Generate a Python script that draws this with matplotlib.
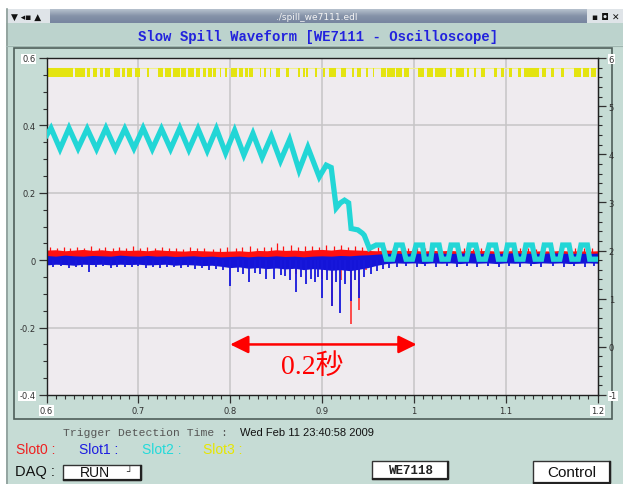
import numpy as np
import matplotlib
matplotlib.use("Agg")
import matplotlib.pyplot as plt
from matplotlib.patches import Rectangle
from matplotlib.ticker import FixedLocator

plt.rcParams['font.family'] = ['DejaVu Sans', 'Noto Sans CJK JP']

# ---------------- data ----------------
window_title = "./spill_we7111.edl"
title = "Slow Spill Waveform [WE7111 - Oscilloscope]"
trigger_label = "Trigger Detection Time :"
trigger_time = "Wed Feb 11 23:40:58 2009"
slot_labels = ["Slot0 :", "Slot1 :", "Slot2 :", "Slot3 :"]
slot_colors = ["#ee2020", "#1c1ce0", "#22dada", "#e6e600"]

x_ticks = [0.6, 0.7, 0.8, 0.9, 1.0, 1.1, 1.2]
x_tick_labels = ["0.6", "0.7", "0.8", "0.9", "1", "1.1", "1.2"]
y_ticks = [-0.4, -0.2, 0.0, 0.2, 0.4, 0.6]
y_tick_labels = ["-0.4", "-0.2", "0", "0.2", "0.4", "0.6"]
grid_x = [0.7, 0.8, 0.9, 1.0, 1.1]
grid_y = [-0.2, 0.0, 0.2, 0.4]
right_ticks = [-1, 0, 1, 2, 3, 4, 5, 6]
right_tick_labels = ["-1", "0", "1", "2", "3", "4", "5", "6"]

# noise bands of Slot0 (red) and Slot1 (blue), sampled every 0.01
band_x = [0.60, 0.61, 0.62, 0.63, 0.64, 0.65, 0.66, 0.67, 0.68, 0.69,
          0.70, 0.71, 0.72, 0.73, 0.74, 0.75, 0.76, 0.77, 0.78, 0.79,
          0.80, 0.81, 0.82, 0.83, 0.84, 0.85, 0.86, 0.87, 0.88, 0.89,
          0.90, 0.91, 0.92, 0.93, 0.94, 0.95, 0.96, 0.97, 0.98, 0.99,
          1.00, 1.01, 1.02, 1.03, 1.04, 1.05, 1.06, 1.07, 1.08, 1.09,
          1.10, 1.11, 1.12, 1.13, 1.14, 1.15, 1.16, 1.17, 1.18, 1.19, 1.20]
red_top = [0.030, 0.031, 0.028, 0.030, 0.032, 0.029, 0.031, 0.028, 0.030, 0.029,
           0.030, 0.028, 0.031, 0.029, 0.028, 0.027, 0.029, 0.028, 0.027, 0.026,
           0.027, 0.028, 0.026, 0.029, 0.028, 0.031, 0.029, 0.030, 0.028, 0.031,
           0.032, 0.030, 0.033, 0.031, 0.030, 0.029, 0.028, 0.030, 0.029, 0.028,
           0.029, 0.027, 0.029, 0.028, 0.029, 0.027, 0.029, 0.028, 0.029, 0.027,
           0.028, 0.028, 0.029, 0.027, 0.028, 0.027, 0.029, 0.027, 0.028, 0.027, 0.028]
red_bot = [0.006, 0.005, 0.007, 0.005, 0.006, 0.005, 0.006, 0.007, 0.005, 0.006,
           0.006, 0.005, 0.006, 0.005, 0.007, 0.005, 0.006, 0.005, 0.006, 0.004,
           0.003, 0.004, 0.002, 0.003, 0.002, 0.001, 0.002, 0.000, 0.001, 0.000,
           -0.002, 0.000, -0.001, 0.001, 0.002, 0.004, 0.008, 0.010, 0.011, 0.010,
           0.011, 0.010, 0.012, 0.011, 0.010, 0.011, 0.012, 0.010, 0.011, 0.010,
           0.011, 0.012, 0.010, 0.011, 0.010, 0.012, 0.011, 0.010, 0.011, 0.010, 0.011]
blue_top = [0.014, 0.012, 0.015, 0.013, 0.012, 0.014, 0.013, 0.012, 0.015, 0.013,
            0.012, 0.014, 0.012, 0.013, 0.011, 0.012, 0.013, 0.011, 0.012, 0.010,
            0.011, 0.012, 0.010, 0.012, 0.011, 0.013, 0.011, 0.012, 0.010, 0.012,
            0.013, 0.012, 0.014, 0.013, 0.015, 0.016, 0.018, 0.020, 0.021, 0.020,
            0.021, 0.020, 0.022, 0.021, 0.020, 0.021, 0.022, 0.020, 0.021, 0.020,
            0.021, 0.022, 0.020, 0.021, 0.020, 0.022, 0.021, 0.020, 0.021, 0.020, 0.021]
blue_bot = [-0.014, -0.012, -0.013, -0.015, -0.012, -0.013, -0.012, -0.014, -0.012, -0.013,
            -0.012, -0.014, -0.013, -0.012, -0.015, -0.013, -0.014, -0.016, -0.015, -0.018,
            -0.022, -0.020, -0.024, -0.022, -0.025, -0.023, -0.026, -0.024, -0.028, -0.025,
            -0.027, -0.030, -0.028, -0.031, -0.027, -0.022, -0.015, -0.010, -0.008, -0.009,
            -0.008, -0.010, -0.008, -0.009, -0.008, -0.010, -0.008, -0.009, -0.008, -0.010,
            -0.008, -0.009, -0.008, -0.010, -0.008, -0.009, -0.008, -0.010, -0.009, -0.008, -0.009]

# upward noise spikes of Slot0
red_up_x = [0.604, 0.611, 0.619, 0.626, 0.633, 0.641, 0.648, 0.657, 0.664, 0.672,
            0.679, 0.687, 0.694, 0.702, 0.709, 0.718, 0.726, 0.733, 0.741, 0.749,
            0.756, 0.764, 0.772, 0.781, 0.789, 0.797, 0.806, 0.813, 0.822, 0.829,
            0.837, 0.845, 0.851, 0.858, 0.866, 0.874, 0.881, 0.889, 0.897, 0.904,
            0.913, 0.921, 0.928, 0.936, 0.944, 0.952, 0.961, 0.969, 0.977, 0.986,
            0.994, 1.003, 1.012, 1.021, 1.029, 1.038, 1.047, 1.055, 1.064, 1.073,
            1.081, 1.090, 1.098, 1.107, 1.116, 1.124, 1.133, 1.142, 1.150, 1.159,
            1.168, 1.176, 1.185, 1.194]
red_up_y = [0.038, 0.035, 0.040, 0.036, 0.039, 0.037, 0.041, 0.035, 0.038, 0.036,
            0.040, 0.035, 0.042, 0.036, 0.038, 0.035, 0.039, 0.036, 0.037, 0.034,
            0.038, 0.035, 0.037, 0.034, 0.036, 0.038, 0.036, 0.039, 0.041, 0.037,
            0.040, 0.038, 0.050, 0.042, 0.044, 0.039, 0.041, 0.043, 0.040, 0.046,
            0.041, 0.044, 0.040, 0.042, 0.039, 0.037, 0.038, 0.036, 0.037, 0.035,
            0.036, 0.037, 0.035, 0.036, 0.034, 0.036, 0.035, 0.037, 0.034, 0.036,
            0.035, 0.036, 0.034, 0.037, 0.035, 0.036, 0.034, 0.036, 0.035, 0.037,
            0.034, 0.036, 0.035, 0.036]
# downward spikes of Slot0
red_dn_x = [0.872, 0.900, 0.911, 0.921, 0.932, 0.9408, 0.948]
red_dn_y = [-0.040, -0.055, -0.135, -0.060, -0.188, -0.148, -0.030]
# downward spikes of Slot1
blue_dn_x = [0.607, 0.616, 0.624, 0.632, 0.639, 0.646, 0.654, 0.662, 0.670, 0.677,
             0.685, 0.693, 0.700, 0.708, 0.716, 0.724, 0.731, 0.739, 0.746, 0.754,
             0.762, 0.769, 0.777, 0.785, 0.792, 0.800, 0.808, 0.814, 0.820, 0.827,
             0.833, 0.839, 0.848, 0.855, 0.860, 0.865, 0.872, 0.877, 0.883, 0.888,
             0.892, 0.896, 0.900, 0.905, 0.911, 0.915, 0.920, 0.925, 0.932, 0.936,
             0.940, 0.946, 0.953, 0.960, 0.966, 0.973, 0.982, 0.991, 1.003, 1.012,
             1.024, 1.036, 1.047, 1.058, 1.069, 1.081, 1.093, 1.104, 1.116, 1.128,
             1.139, 1.151, 1.163, 1.174, 1.186, 1.196]
blue_dn_y = [-0.020, -0.018, -0.022, -0.019, -0.021, -0.036, -0.020, -0.018, -0.022, -0.020,
             -0.019, -0.021, -0.018, -0.022, -0.020, -0.024, -0.021, -0.019, -0.023, -0.020,
             -0.026, -0.022, -0.028, -0.025, -0.030, -0.078, -0.034, -0.040, -0.066, -0.038,
             -0.042, -0.055, -0.056, -0.044, -0.048, -0.058, -0.094, -0.050, -0.072, -0.055,
             -0.066, -0.050, -0.113, -0.060, -0.137, -0.065, -0.158, -0.070, -0.120, -0.060,
             -0.113, -0.050, -0.042, -0.032, -0.026, -0.022, -0.020, -0.018, -0.021, -0.017,
             -0.020, -0.018, -0.021, -0.017, -0.020, -0.018, -0.021, -0.017, -0.020, -0.018,
             -0.021, -0.017, -0.020, -0.018, -0.021, -0.018]

# Slot2 (cyan) waveform knots
cyan_x = [0.600, 0.6049, 0.6147, 0.6245, 0.6344, 0.6443, 0.6545, 0.6647, 0.6750, 0.6853,
          0.6952, 0.7052, 0.7152, 0.7252, 0.7351, 0.7451, 0.7550, 0.7650, 0.7750, 0.7850,
          0.7950, 0.8049, 0.8149, 0.8248, 0.8348, 0.8448, 0.8548, 0.8647, 0.8750, 0.8846,
          0.8970, 0.9046, 0.9100, 0.9155, 0.9200, 0.9245, 0.9290, 0.9317, 0.9390, 0.9440,
          0.9460, 0.9516,
          0.9590, 0.9660, 0.9700, 0.9770, 0.9810, 0.9875, 0.9915, 0.9985, 1.0025, 1.0095,
          1.0115, 1.0185, 1.0205, 1.0275, 1.0305, 1.0375, 1.0405, 1.0475, 1.0505, 1.0575,
          1.0605, 1.0675, 1.0710, 1.0780, 1.0820, 1.0890, 1.0920, 1.0990, 1.1020, 1.1090,
          1.1120, 1.1190, 1.1220, 1.1290, 1.1320, 1.1390, 1.1420, 1.1490, 1.1520, 1.1590,
          1.1620, 1.1690, 1.1720, 1.1790, 1.1820, 1.1890, 1.1915, 1.2000]
cyan_y = [0.370, 0.392, 0.330, 0.392, 0.332, 0.390, 0.330, 0.392, 0.330, 0.390,
          0.332, 0.392, 0.330, 0.390, 0.330, 0.392, 0.328, 0.390, 0.325, 0.390,
          0.318, 0.385, 0.312, 0.376, 0.305, 0.368, 0.295, 0.358, 0.267, 0.335,
          0.247, 0.282, 0.275, 0.155, 0.170, 0.178, 0.170, 0.094, 0.090, 0.080,
          0.074, 0.035,
          0.045, 0.045, 0.003, 0.003, 0.045, 0.045, 0.003, 0.003, 0.045, 0.045,
          0.003, 0.003, 0.045, 0.045, 0.003, 0.003, 0.045, 0.045, 0.003, 0.003,
          0.045, 0.045, 0.003, 0.003, 0.045, 0.045, 0.003, 0.003, 0.045, 0.045,
          0.003, 0.003, 0.045, 0.045, 0.003, 0.003, 0.045, 0.045, 0.003, 0.003,
          0.045, 0.045, 0.003, 0.003, 0.045, 0.045, 0.003, 0.003]

# Slot3 (yellow) pulse blocks: start, end
yellow_start = [0.600, 0.631, 0.644, 0.651, 0.658, 0.664, 0.673, 0.682, 0.688, 0.696,
                0.709, 0.721, 0.729, 0.738, 0.747, 0.754, 0.763, 0.770, 0.776, 0.781,
                0.789, 0.794, 0.801, 0.810, 0.816, 0.821, 0.832, 0.837, 0.843, 0.850,
                0.861, 0.874, 0.879, 0.883, 0.892, 0.901, 0.908, 0.921, 0.933, 0.938,
                0.948, 0.955, 0.964, 0.971, 0.981, 0.989, 1.004, 1.014, 1.023, 1.039,
                1.046, 1.058, 1.066, 1.073, 1.087, 1.095, 1.104, 1.113, 1.120, 1.127,
                1.140, 1.149, 1.160, 1.174, 1.184, 1.193]
yellow_end = [0.629, 0.642, 0.647, 0.655, 0.662, 0.669, 0.680, 0.686, 0.693, 0.702,
              0.712, 0.727, 0.736, 0.745, 0.752, 0.761, 0.767, 0.774, 0.780, 0.785,
              0.790, 0.797, 0.807, 0.814, 0.819, 0.825, 0.834, 0.839, 0.845, 0.854,
              0.864, 0.876, 0.881, 0.885, 0.895, 0.903, 0.915, 0.926, 0.935, 0.943,
              0.950, 0.957, 0.970, 0.979, 0.987, 0.995, 1.011, 1.021, 1.035, 1.042,
              1.055, 1.060, 1.068, 1.078, 1.091, 1.098, 1.107, 1.117, 1.126, 1.136,
              1.144, 1.153, 1.164, 1.182, 1.191, 1.198]
yellow_low, yellow_high = 0.544, 0.571

arrow_start, arrow_end, arrow_y = 0.800, 1.003, -0.25
arrow_label, arrow_label_x, arrow_label_y = "0.2秒", 0.889, -0.315

# ---------------- figure ----------------
W, H = 623, 485
fig = plt.figure(figsize=(W / 100, H / 100), dpi=100)
fig.patch.set_facecolor("white")

panel = "#c6dcd5"
bg = fig.add_axes([0, 0, 1, 1])
bg.axis("off")

bg.add_patch(Rectangle((6, 10), W - 6, H - 10, fc=panel, ec="none"))
bg.add_patch(Rectangle((6, 24), W - 6, 22, fc="#bcd3cd", ec="none"))
grad = np.linspace(0, 1, 14).reshape(-1, 1)
cmap = matplotlib.colors.LinearSegmentedColormap.from_list("tb", ["#b4bfcc", "#8592a8", "#7886a0"])
bg.imshow(grad, extent=[6, W, 24, 10], cmap=cmap, aspect="auto", zorder=1)
bg.set_xlim(0, W)
bg.set_ylim(H, 0)
bg.add_patch(Rectangle((6, 10), 44, 14, fc="#dfe4e8", ec="none", zorder=2))
bg.add_patch(Rectangle((587, 10), 36, 14, fc="#dfe4e8", ec="none", zorder=2))
bg.plot([6.5, 6.5], [10, H], color="#8c9c98", lw=1.2, zorder=3)
bg.plot([6, W], [46.5, 46.5], color="#9fb6b0", lw=0.8, zorder=3)
bg.text(11, 17, "▼ ◂▪ ▲", fontsize=6.5, color="#111111", va="center", ha="left", zorder=4)
bg.text(592, 17, "▪ ◘ ✕", fontsize=6.5, color="#111111", va="center", ha="left", zorder=4,
        fontweight="bold")
bg.text(317, 17, window_title, fontsize=6.5, color="#f4f4f4", va="center", ha="center", zorder=4)
bg.text(318, 37, title, fontsize=10, color="#2222dd", fontweight="bold",
        family="Liberation Mono", va="center", ha="center", zorder=4)
bg.add_patch(Rectangle((14, 48.5), 598, 371, fc=panel, ec="#4e5e5a", lw=1.2, zorder=2))

bg.text(63, 433, trigger_label, fontsize=8.2, color="#555555", family="Liberation Mono",
        va="center", ha="left")
bg.text(240, 433, trigger_time, fontsize=8, color="#111111", family="Liberation Sans",
        va="center", ha="left")
for lab, col, xp in zip(slot_labels, slot_colors, [16, 79, 142, 203]):
    bg.text(xp, 450, lab, fontsize=10, color=col, family="Liberation Sans", va="center", ha="left")
bg.text(15, 472, "DAQ :", fontsize=10.5, color="#111111", family="Liberation Sans",
        va="center", ha="left")
# buttons
for (bx, by, bw, bh) in [(63, 465.5, 78, 15.5), (372, 462, 76, 18), (533, 462, 77, 22)]:
    bg.add_patch(Rectangle((bx, by), bw, bh, fc="white", ec="#333333", lw=1.0, zorder=3))
    bg.plot([bx + 1, bx + bw, bx + bw], [by + bh, by + bh, by + 1], color="#222222", lw=1.6, zorder=4)
bg.text(95, 473.5, "RUN", fontsize=10, family="Liberation Sans", color="#111111",
        va="center", ha="center", zorder=5)
bg.text(129, 472, "┘", fontsize=7, color="#333333", va="center", ha="center", zorder=5)
bg.text(411, 471.5, "WE7118", fontsize=9, family="Liberation Mono", fontweight="bold",
        color="#222222", va="center", ha="center", zorder=5)
bg.text(572, 473, "Control", fontsize=11, family="Liberation Sans", color="#111111",
        va="center", ha="center", zorder=5)

# ---------------- plot axes ----------------
ax = fig.add_axes([46.5 / W, 1 - 396 / H, 551 / W, 337 / H])
ax.set_facecolor("#efebef")
ax.set_xlim(0.6, 1.2)
ax.set_ylim(-0.4, 0.6)

for gx in grid_x:
    ax.axvline(gx, color="#c6c4c6", lw=1.1, zorder=0.5)
for gy in grid_y:
    ax.axhline(gy, color="#c6c4c6", lw=1.1, zorder=0.5)

# yellow Slot3
ax.plot([0.6, 1.2], [yellow_high, yellow_high], color="#f0f08a", lw=0.8, zorder=1)
ys = np.array(yellow_start)
ye = np.array(yellow_end)
ax.bar(ys, yellow_high - yellow_low, width=ye - ys, bottom=yellow_low, align="edge",
       color="#e4e410", edgecolor="none", zorder=1.2)

# red Slot0
ax.fill_between(band_x, red_bot, red_top, color="#ff1010", lw=0, zorder=2)
ax.vlines(red_up_x, 0.02, red_up_y, color="#ff1010", lw=0.9, zorder=2)
ax.vlines(red_dn_x, 0.0, red_dn_y, color="#ff3030", lw=1.2, zorder=2)
# blue Slot1
ax.fill_between(band_x, blue_bot, blue_top, color="#1414d8", lw=0, zorder=2.5)
ax.vlines(blue_dn_x, 0.0, blue_dn_y, color="#1818dc", lw=1.3, zorder=2.5)
# cyan Slot2
ax.plot(cyan_x, cyan_y, color="#22d6d6", lw=3.8, zorder=3, solid_joinstyle="miter")

# arrow and label
ax.annotate("", xy=(arrow_end, arrow_y), xytext=(arrow_start, arrow_y),
            arrowprops=dict(arrowstyle="<|-|>,head_length=0.55,head_width=0.27",
                            color="#ff0000", lw=1.8, mutation_scale=20,
                            shrinkA=0, shrinkB=0), zorder=5)
ax.text(arrow_label_x, arrow_label_y, arrow_label, color="#ff0000", fontsize=20,
        family=["Liberation Serif", "Noto Sans CJK JP"], ha="center", va="center", zorder=5)

# spines & ticks
for s in ax.spines.values():
    s.set_color("#202020")
    s.set_linewidth(1.0)
ax.set_xticks(x_ticks)
ax.set_xticklabels(x_tick_labels)
ax.xaxis.set_minor_locator(FixedLocator(np.arange(0.6, 1.2001, 0.01)))
ax.set_yticks(y_ticks)
ax.set_yticklabels(y_tick_labels)
ax.yaxis.set_minor_locator(FixedLocator(np.arange(-0.4, 0.6001, 0.05)))
ax.tick_params(axis="both", which="major", direction="out", length=6, width=0.9,
               labelsize=6, colors="#303030", pad=2)
ax.tick_params(axis="both", which="minor", direction="out", length=3, width=0.8,
               colors="#303030")
for lab in [ax.get_xticklabels()[0], ax.get_xticklabels()[-1],
            ax.get_yticklabels()[0], ax.get_yticklabels()[-1]]:
    lab.set_bbox(dict(facecolor="white", edgecolor="none", pad=0.6))


def to_right(v):
    return (np.asarray(v) + 0.4) * 7.0 - 1.0


def to_left(r):
    return (np.asarray(r) + 1.0) / 7.0 - 0.4


sec = ax.secondary_yaxis("right", functions=(to_right, to_left))
sec.set_yticks(right_ticks)
sec.set_yticklabels(right_tick_labels)
sec.yaxis.set_minor_locator(FixedLocator(np.arange(-1, 6.001, 0.2)))
sec.tick_params(axis="y", which="major", direction="out", length=6, width=0.9,
                labelsize=6, colors="#303030", pad=2)
sec.tick_params(axis="y", which="minor", direction="out", length=3, width=0.8,
                colors="#303030")
sec.spines["right"].set_color("#202020")
for lab in [sec.get_yticklabels()[0], sec.get_yticklabels()[-1]]:
    lab.set_bbox(dict(facecolor="white", edgecolor="none", pad=0.6))

fig.savefig("out.png", dpi=100)
